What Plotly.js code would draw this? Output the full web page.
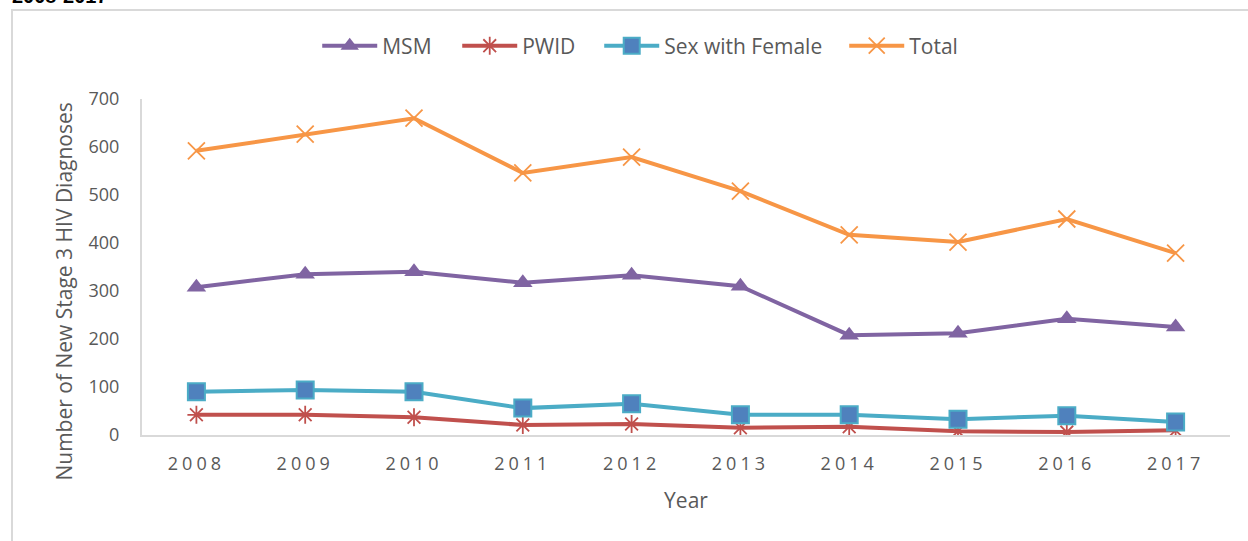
<!DOCTYPE html>
<html>
<head>
<meta charset="utf-8">
<script src="https://cdn.plot.ly/plotly-3.0.1.min.js"></script>
<style>
  html, body { margin: 0; padding: 0; background: #fff; overflow: hidden; }
  #frame { position: absolute; left: 11px; top: 9px; width: 1300px; height: 600px;
           border-left: 2px solid #d9d9d9; border-top: 2px solid #d9d9d9; }
  #chart { position: absolute; left: 0; top: 0; width: 1248px; height: 541px; }
  .xtick text { letter-spacing: 4px; }
</style>
</head>
<body>
<div id="frame"></div>
<div id="chart"></div>
<script>
const years = ['2008','2009','2010','2011','2012','2013','2014','2015','2016','2017'];
const msm = [308, 335, 340, 317, 333, 310, 208, 212, 242, 225];
const pwid = [42, 42, 37, 21, 23, 15, 17, 8, 6, 10];
const sexWithFemale = [90, 94, 90, 56, 65, 42, 42, 33, 40, 27];
const total = [592, 627, 660, 546, 579, 508, 417, 402, 450, 379];
const yTitle = 'Number of New Stage 3 HIV Diagnoses';

const font = 'Open Sans, sans-serif';
const grey = '#595959';

const traces = [
  { name: 'MSM', x: years, y: msm, type: 'scatter', mode: 'lines+markers', legendwidth: 70,
    line: { color: '#8064A2', width: 4 },
    marker: { symbol: 'triangle-up', size: 17, color: '#8064A2' } },
  { name: 'PWID', x: years, y: pwid, type: 'scatter', mode: 'lines+markers', legendwidth: 72,
    line: { color: '#C0504D', width: 4 },
    marker: { symbol: 'asterisk-open', size: 15, color: '#C0504D', line: { color: '#C0504D', width: 1.8 } } },
  { name: 'Sex with Female', x: years, y: sexWithFemale, type: 'scatter', mode: 'lines+markers', legendwidth: 175,
    line: { color: '#4BACC6', width: 4 },
    marker: { symbol: 'square', size: 17, color: '#4F81BD', line: { color: '#4BACC6', width: 2 } } },
  { name: 'Total', x: years, y: total, type: 'scatter', mode: 'lines+markers',
    line: { color: '#F79646', width: 4 },
    marker: { symbol: 'x-thin-open', size: 17, color: '#F79646', line: { color: '#F79646', width: 1.8 } } }
];

const layout = {
  width: 1248, height: 541,
  paper_bgcolor: 'rgba(0,0,0,0)', plot_bgcolor: 'rgba(0,0,0,0)',
  margin: { l: 142, r: 18, t: 99, b: 106 },
  font: { family: font, color: grey, size: 18 },
  title: { text: '<b>2008-2017</b>', font: { family: 'Arial, sans-serif', size: 20, color: '#000' },
           xref: 'container', yref: 'container', x: 0.0096, xanchor: 'left', y: 0.994, yanchor: 'bottom' },
  showlegend: true,
  legend: { orientation: 'h', xref: 'container', yref: 'container', x: 0.513, xanchor: 'center',
            y: 0.915, yanchor: 'middle', font: { family: font, size: 21, color: grey },
            itemwidth: 55, traceorder: 'normal' },
  xaxis: {
    type: 'category', range: [-0.5, 9.5], showgrid: false, zeroline: false,
    showline: true, linecolor: '#d9d9d9', linewidth: 2, ticks: '',
    tickfont: { family: font, size: 18, color: grey }, ticklabelstandoff: 11,
    title: { text: 'Year', font: { family: font, size: 21, color: grey }, standoff: 20 }
  },
  yaxis: {
    range: [0, 700], dtick: 100, showgrid: false, zeroline: false,
    showline: true, linecolor: '#d9d9d9', linewidth: 2, ticks: '',
    tickfont: { family: font, size: 18, color: grey }, ticklabelstandoff: 17
  },
  annotations: [{
    text: yTitle, textangle: -90, showarrow: false,
    xref: 'paper', yref: 'paper', x: -0.0717, y: 0.427, xanchor: 'center', yanchor: 'middle',
    font: { family: font, size: 21, color: grey }
  }]
};

Plotly.newPlot('chart', traces, layout, { displayModeBar: false, staticPlot: true });
</script>
</body>
</html>
